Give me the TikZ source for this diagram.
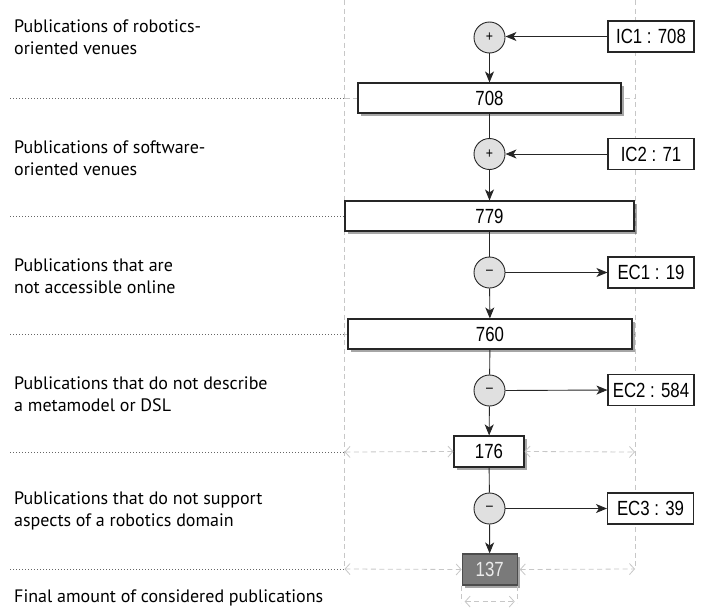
\documentclass[tikz,border=0pt]{standalone}
\usepackage{fontspec}
\setmainfont{PT Sans}
\newfontfamily\lblfont{PT Sans}
\newfontfamily\numfont[FakeStretch=0.82]{Liberation Sans}
\usetikzlibrary{arrows.meta,shadows}
\definecolor{guide}{gray}{0.78}
\definecolor{circfill}{gray}{0.88}
\begin{document}
\begin{tikzpicture}[x=1pt,y=-1pt,
  box/.style={draw=black!85,line width=1.1pt,fill=white,minimum height=30pt,inner sep=0pt,
    font=\numfont\fontsize{20.5}{22}\selectfont,
    drop shadow={shadow xshift=2.5pt,shadow yshift=-2.5pt,opacity=0.35,fill=black}},
  side/.style={draw=black!85,line width=1.1pt,fill=white,minimum width=86pt,minimum height=31pt,inner sep=0pt,
    font=\numfont\fontsize{20.5}{22}\selectfont},
  op/.style={circle,draw=black!85,line width=0.9pt,fill=circfill,minimum size=31pt,inner sep=0pt,
    font=\numfont\fontsize{15}{15}\selectfont},
  flow/.style={line width=0.9pt,draw=black!85,-{Stealth[length=11pt,width=9pt,inset=3pt]}},
  plain/.style={line width=0.9pt,draw=black!85},
  guideline/.style={draw=guide,line width=0.8pt,dash pattern=on 5pt off 3.5pt},
  dim/.style={guideline,{Straight Barb[length=5pt,width=11pt,line width=0.8pt]}-{Straight Barb[length=5pt,width=11pt,line width=0.8pt]}},
  levline/.style={draw=black!60,line width=0.8pt,dash pattern=on 0.8pt off 2.2pt},
  desc/.style={anchor=west,align=left,inner sep=0pt,font=\lblfont\fontsize{18}{22}\selectfont}]
\useasboundingbox (0,0) rectangle (706,613);

% guide coordinates
\coordinate (gl0) at (344.5,0);
\coordinate (gr0) at (635,0);
\coordinate (gl1) at (344.5,569);
\coordinate (gr1) at (635,569);
\draw[guideline] (gl0) -- (gl1);
\draw[guideline] (gr0) -- (gr1);

% level dotted lines
\foreach \yy/\nm in {98/a,216/b,334/c,452/d,569/e}{
  \coordinate (ls\nm) at (10,\yy);
  \coordinate (le\nm) at (344.5,\yy);
  \coordinate (re\nm) at (635,\yy);
  \draw[levline] (ls\nm) -- (le\nm);
}
\draw[guideline] (lea) -- (rea);
\draw[guideline] (leb) -- (reb);
\draw[guideline] (lec) -- (rec);

% main boxes
\node[box,minimum width=263pt] (b1) at (489.5,98) {708};
\node[box,minimum width=289pt] (b2) at (489.5,216) {779};
\node[box,minimum width=284pt] (b3) at (490,334) {760};
\node[box,minimum width=70pt,minimum height=31pt] (b4) at (489,451.5) {176};
\node[box,minimum width=55pt,minimum height=31pt,fill=black!52,draw=black!70,text=black!8] (b5) at (489.7,569.5) {137};

% dimension arrows
\draw[dim] (led) -- (b4.west);
\draw[dim] (b4.east) -- (red);
\draw[dim] (lee) -- (b5.west);
\draw[dim] ([xshift=2pt]b5.east) -- (ree);
\coordinate (t1) at ([yshift=-17pt]b5.south west);
\coordinate (t2) at ([yshift=-17pt]b5.south east);
\draw[guideline] (b5.south west) -- (t1);
\draw[guideline] (b5.south east) -- (t2);
\coordinate (d1) at ([yshift=-16pt]b5.south west);
\coordinate (d2) at ([yshift=-16pt]b5.south east);
\draw[dim] ([xshift=3pt]d1) -- ([xshift=-3pt]d2);

% operators
\node[op] (o1) at (489.5,37.5) {+};
\node[op] (o2) at (489.5,154) {+};
\node[op] (o3) at (489.5,272.5) {\textendash};
\node[op] (o4) at (489.5,390.5) {\textendash};
\node[op] (o5) at (489.5,508.5) {\textendash};

% side boxes
\node[side] (s1) at (651,36.5) {IC1 : 708};
\node[side] (s2) at (651,154) {IC2 : 71};
\node[side] (s3) at (651,272.5) {EC1 : 19};
\node[side] (s4) at (651,390) {EC2 : 584};
\node[side] (s5) at (650.5,508.5) {EC3 : 39};

% flow
\draw[flow] (s1.west) -- (o1.east |- s1.west);
\draw[flow] (s2.west) -- (o2.east);
\draw[flow] (o3.east) -- (s3.west);
\draw[flow] (o4.east) -- (s4.west);
\draw[flow] (o5.east) -- (s5.west);
\draw[flow] (o1) -- (b1);
\draw[plain] (b1) -- (o2);
\draw[flow] (o2) -- (b2);
\draw[plain] (b2) -- (o3);
\draw[flow] (o3) -- (b3);
\draw[plain] (b3) -- (o4);
\draw[flow] (o4) -- (b4);
\draw[plain] (b4) -- (o5);
\draw[flow] (o5) -- (b5);

% descriptions
\node[desc] (t1d) at (14,37) {Publications of robotics-\\oriented venues};
\node[desc] (t2d) at (14,158) {Publications of software-\\oriented venues};
\node[desc] (t3d) at (14,276) {Publications that are\\not accessible online};
\node[desc] (t4d) at (14,394) {Publications that do not describe\\a metamodel or DSL};
\node[desc] (t5d) at (14,511) {Publications that do not support\\aspects of a robotics domain};
\node[desc] (t6d) at (14,598) {Final amount of considered publications};
\end{tikzpicture}
\end{document}
